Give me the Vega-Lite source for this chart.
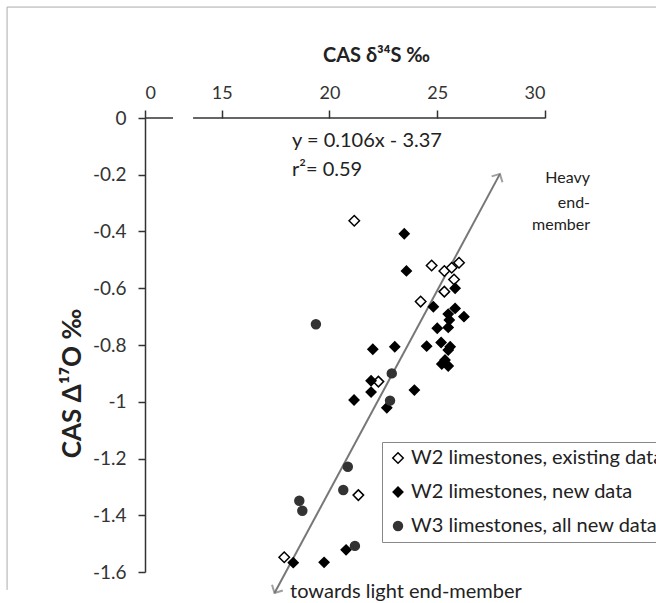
{
  "$schema": "https://vega.github.io/schema/vega-lite/v6.json",
  "autosize": "none",
  "width": 400,
  "height": 454,
  "padding": {"left": 145, "top": 118, "right": 111, "bottom": 31},
  "config": {
    "font": "Lato",
    "view": {"stroke": null},
    "axis": {"labelColor": "#333", "titleColor": "#222", "domainColor": "#333", "tickColor": "#333"}
  },
  "datasets": {
    "pts": [
      {"x": 21.15, "y": -0.362, "series": "W2 limestones, existing data"},
      {"x": 24.74, "y": -0.52, "series": "W2 limestones, existing data"},
      {"x": 25.33, "y": -0.539, "series": "W2 limestones, existing data"},
      {"x": 25.67, "y": -0.528, "series": "W2 limestones, existing data"},
      {"x": 26.01, "y": -0.51, "series": "W2 limestones, existing data"},
      {"x": 25.78, "y": -0.569, "series": "W2 limestones, existing data"},
      {"x": 25.33, "y": -0.612, "series": "W2 limestones, existing data"},
      {"x": 24.23, "y": -0.647, "series": "W2 limestones, existing data"},
      {"x": 22.27, "y": -0.929, "series": "W2 limestones, existing data"},
      {"x": 21.34, "y": -1.329, "series": "W2 limestones, existing data"},
      {"x": 17.9, "y": -1.548, "series": "W2 limestones, existing data"},
      {"x": 23.47, "y": -0.408, "series": "W2 limestones, new data"},
      {"x": 23.57, "y": -0.539, "series": "W2 limestones, new data"},
      {"x": 25.83, "y": -0.6, "series": "W2 limestones, new data"},
      {"x": 24.82, "y": -0.665, "series": "W2 limestones, new data"},
      {"x": 25.83, "y": -0.671, "series": "W2 limestones, new data"},
      {"x": 25.51, "y": -0.691, "series": "W2 limestones, new data"},
      {"x": 26.24, "y": -0.7, "series": "W2 limestones, new data"},
      {"x": 25.56, "y": -0.712, "series": "W2 limestones, new data"},
      {"x": 25.51, "y": -0.738, "series": "W2 limestones, new data"},
      {"x": 25.0, "y": -0.741, "series": "W2 limestones, new data"},
      {"x": 23.03, "y": -0.806, "series": "W2 limestones, new data"},
      {"x": 24.51, "y": -0.804, "series": "W2 limestones, new data"},
      {"x": 25.18, "y": -0.791, "series": "W2 limestones, new data"},
      {"x": 25.6, "y": -0.806, "series": "W2 limestones, new data"},
      {"x": 25.51, "y": -0.818, "series": "W2 limestones, new data"},
      {"x": 25.36, "y": -0.853, "series": "W2 limestones, new data"},
      {"x": 25.21, "y": -0.867, "series": "W2 limestones, new data"},
      {"x": 25.51, "y": -0.874, "series": "W2 limestones, new data"},
      {"x": 22.01, "y": -0.815, "series": "W2 limestones, new data"},
      {"x": 21.93, "y": -0.926, "series": "W2 limestones, new data"},
      {"x": 21.93, "y": -0.966, "series": "W2 limestones, new data"},
      {"x": 21.14, "y": -0.994, "series": "W2 limestones, new data"},
      {"x": 23.94, "y": -0.959, "series": "W2 limestones, new data"},
      {"x": 22.66, "y": -1.021, "series": "W2 limestones, new data"},
      {"x": 20.77, "y": -1.522, "series": "W2 limestones, new data"},
      {"x": 19.75, "y": -1.566, "series": "W2 limestones, new data"},
      {"x": 18.32, "y": -1.567, "series": "W2 limestones, new data"},
      {"x": 19.37, "y": -0.727, "series": "W3 limestones, all new data"},
      {"x": 22.89, "y": -0.9, "series": "W3 limestones, all new data"},
      {"x": 22.81, "y": -0.996, "series": "W3 limestones, all new data"},
      {"x": 20.85, "y": -1.229, "series": "W3 limestones, all new data"},
      {"x": 20.64, "y": -1.311, "series": "W3 limestones, all new data"},
      {"x": 18.6, "y": -1.349, "series": "W3 limestones, all new data"},
      {"x": 18.74, "y": -1.384, "series": "W3 limestones, all new data"},
      {"x": 21.18, "y": -1.508, "series": "W3 limestones, all new data"}
    ],
    "mix": [
      {"x": 17.45, "y": -1.674, "end": "light"},
      {"x": 27.91, "y": -0.197, "end": "heavy"}
    ]
  },
  "encoding": {
    "x": {
      "field": "x", "type": "quantitative",
      "scale": {"domain": [11.44, 30], "nice": false, "zero": false},
      "axis": {
        "orient": "top", "values": [11.44, 15, 20, 25, 30],
        "labelExpr": "datum.value < 12 ? '0' : '' + datum.value",
        "domain": false, "grid": false, "tickSize": 8, "tickWidth": 1.5,
        "labelFontSize": 18, "labelPadding": 8,
        "title": "CAS δ³⁴S ‰", "titleFontSize": 20, "titleFontWeight": "bold",
        "titleX": 231, "titleY": -63, "titleBaseline": "middle", "titleAlign": "center"
      }
    },
    "y": {
      "field": "y", "type": "quantitative",
      "scale": {"domain": [-1.6, 0], "nice": false, "zero": false},
      "axis": {
        "values": [0, -0.2, -0.4, -0.6, -0.8, -1, -1.2, -1.4, -1.6],
        "labelExpr": "'' + datum.value",
        "domain": true, "domainWidth": 1.5, "grid": false, "tickSize": 7, "tickWidth": 1.5,
        "labelFontSize": 19, "labelPadding": 12,
        "title": "CAS Δ¹⁷O ‰", "titleFontSize": 26, "titleFontWeight": "bold",
        "titleAngle": -90, "titleX": -73, "titleY": 265, "titleBaseline": "middle", "titleAlign": "center"
      }
    }
  },
  "layer": [
    {
      "data": {"values": [
        {"x": 5.04, "x2": 35.2, "y": 0.391, "y2": 0.391},
        {"x": 5.04, "x2": 5.04, "y": 0.391, "y2": -1.663}
      ]},
      "mark": {"type": "rule", "color": "#aaa", "strokeWidth": 1, "clip": false},
      "encoding": {"x2": {"field": "x2"}, "y2": {"field": "y2"}}
    },
    {
      "data": {"values": [
        {"x": 11.44, "x2": 12.74, "y": 0, "y2": 0},
        {"x": 13.67, "x2": 30, "y": 0, "y2": 0}
      ]},
      "mark": {"type": "rule", "color": "#333", "strokeWidth": 1.5},
      "encoding": {"x2": {"field": "x2"}, "y2": {"field": "y2"}}
    },
    {
      "data": {"name": "mix"},
      "mark": {"type": "line", "color": "#777", "strokeWidth": 2, "clip": false},
      "encoding": {}
    },
    {
      "data": {"name": "mix"},
      "transform": [{"filter": "datum.end == 'heavy'"}],
      "mark": {"type": "point", "shape": "M-1,1L0,0L1,1", "filled": false, "stroke": "#777", "strokeWidth": 2, "size": 150, "angle": 28.3, "clip": false},
      "encoding": {}
    },
    {
      "data": {"name": "mix"},
      "transform": [{"filter": "datum.end == 'light'"}],
      "mark": {"type": "point", "shape": "M-1,1L0,0L1,1", "filled": false, "stroke": "#777", "strokeWidth": 2, "size": 150, "angle": 208.3, "clip": false},
      "encoding": {}
    },
    {
      "data": {"name": "pts"},
      "mark": {"type": "point", "filled": true, "strokeWidth": 1.5, "opacity": 1},
      "encoding": {
        "shape": {
          "field": "series", "type": "nominal",
          "scale": {"domain": ["W2 limestones, existing data", "W2 limestones, new data", "W3 limestones, all new data"], "range": ["diamond", "diamond", "circle"]},
          "legend": {
            "orient": "none", "legendX": 237, "legendY": 324, "title": null,
            "labelFontSize": 20, "labelColor": "#222", "labelLimit": 0,
            "strokeColor": "#888", "fillColor": "white", "padding": 6,
            "rowPadding": 14, "symbolStrokeWidth": 1.5, "labelOffset": 3
          }
        },
        "fill": {"field": "series", "type": "nominal", "scale": {"domain": ["W2 limestones, existing data", "W2 limestones, new data", "W3 limestones, all new data"], "range": ["white", "black", "#333"]}},
        "stroke": {"field": "series", "type": "nominal", "scale": {"domain": ["W2 limestones, existing data", "W2 limestones, new data", "W3 limestones, all new data"], "range": ["black", "black", "#333"]}},
        "size": {"field": "series", "type": "nominal", "scale": {"domain": ["W2 limestones, existing data", "W2 limestones, new data", "W3 limestones, all new data"], "range": [110, 80, 110]}}
      }
    },
    {
      "data": {"values": [
        {"x": 18.26, "y": -0.081, "label": "y = 0.106x - 3.37"},
        {"x": 18.26, "y": -0.183, "label": "r²= 0.59"},
        {"x": 18.17, "y": -1.67, "label": "towards light end-member"}
      ]},
      "mark": {"type": "text", "align": "left", "baseline": "middle", "fontSize": 20, "color": "#222", "clip": false},
      "encoding": {"text": {"field": "label"}}
    },
    {
      "data": {"values": [
        {"x": 32.09, "y": -0.211, "label": "Heavy"},
        {"x": 32.09, "y": -0.3, "label": "end-"},
        {"x": 32.09, "y": -0.377, "label": "member"}
      ]},
      "mark": {"type": "text", "align": "right", "baseline": "middle", "fontSize": 16, "color": "#222", "clip": false},
      "encoding": {"text": {"field": "label"}}
    }
  ]
}
